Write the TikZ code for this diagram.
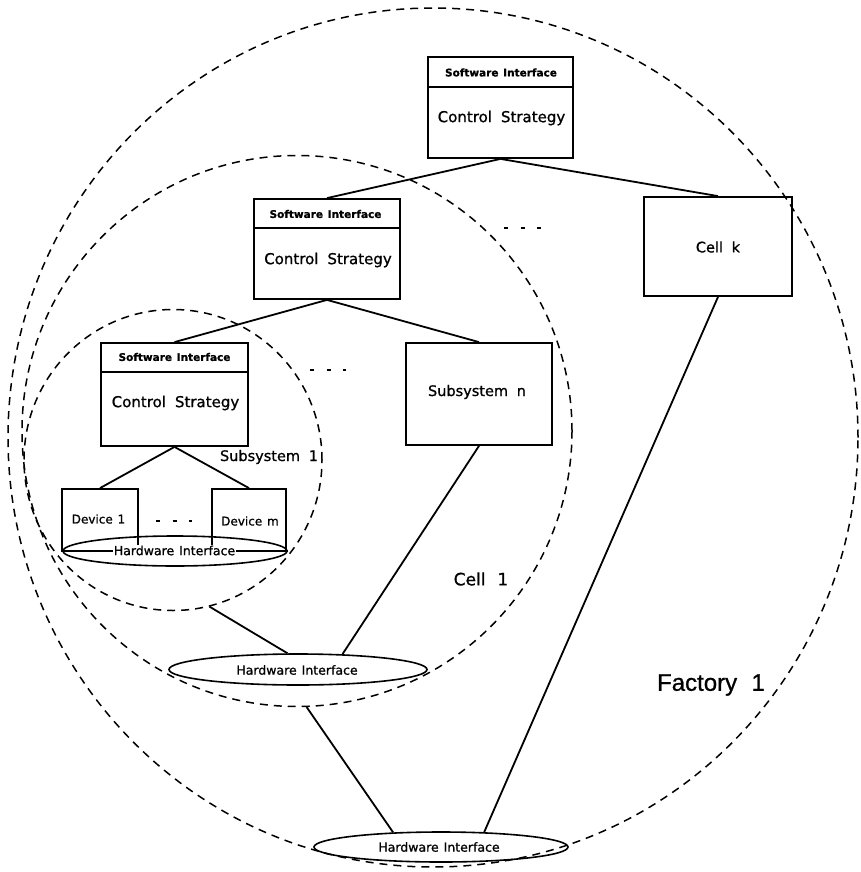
\documentclass[tikz,border=0pt]{standalone}
\usepackage{fontspec}
\setmainfont{DejaVu Sans}[FakeBold=0.9]
\newfontfamily\bigfont{Liberation Sans}[FakeBold=0.9]
\usetikzlibrary{shapes.geometric,calc}

\begin{document}
\begin{tikzpicture}[x=1pt,y=-1pt,
  box/.style={draw,rectangle,line width=1.8pt,inner sep=0pt},
  link/.style={line width=1.8pt},
  zone/.style={draw,ellipse,line width=1.5pt,dash pattern=on 8pt off 6pt,inner sep=0pt},
  hwi/.style={draw,ellipse,line width=1.6pt,inner sep=0pt},
  swtext/.style={font=\bfseries\fontsize{10.5}{12}\selectfont,inner sep=0pt},
  cstext/.style={font=\fontsize{15}{18}\selectfont,inner sep=0pt},
  lbl/.style={font=\fontsize{14.5}{17}\selectfont,inner sep=0pt},
  devtext/.style={font=\fontsize{12}{14}\selectfont,inner sep=0pt},
  hwtext/.style={font=\fontsize{12.5}{15}\selectfont,inner sep=1pt},
  etc/.style={line width=1.4pt,dash pattern=on 4pt off 12.5pt}
]
\useasboundingbox (0,0) rectangle (860,872);

% dashed scopes: factory, cell and subsystem
\node[zone,minimum width=850pt,minimum height=859pt] (factory) at (433,437.5) {};
\node[zone,minimum width=550pt,minimum height=551pt] (cellzone) at (297,431) {};
\node[zone,minimum width=298pt,minimum height=301pt] (subzone) at (173,460) {};

% factory level controller
\node[box,minimum width=145pt,minimum height=101pt] (ftop) at (500.5,107.5) {};
\draw[link] ($(ftop.north west)+(0,31)$) -- ($(ftop.north east)+(0,31)$);
\node[swtext] (ftopsw) at (501,72.5) {Software\hspace{0.45em}Interface};
\node[cstext] (ftopcs) at (501.5,118) {Control\hspace{0.6em}Strategy};

% cell level controller
\node[box,minimum width=146pt,minimum height=100pt] (ctop) at (327,249) {};
\draw[link] ($(ctop.north west)+(0,30)$) -- ($(ctop.north east)+(0,30)$);
\node[swtext] (ctopsw) at (325.5,214) {Software\hspace{0.45em}Interface};
\node[cstext] (ctopcs) at (328,260) {Control\hspace{0.6em}Strategy};

\node[box,minimum width=148pt,minimum height=99pt] (cellk) at (718,246.5) {};
\node[lbl] (cellktx) at (718,247) {Cell\hspace{0.6em}k};

% subsystem level controller
\node[box,minimum width=147pt,minimum height=103pt] (stop) at (174.5,394.5) {};
\draw[link] ($(stop.north west)+(0,30)$) -- ($(stop.north east)+(0,30)$);
\node[swtext] (stopsw) at (174.5,357) {Software\hspace{0.45em}Interface};
\node[cstext] (stopcs) at (175.5,403) {Control\hspace{0.6em}Strategy};

\node[box,minimum width=146pt,minimum height=102pt] (subn) at (479,394) {};
\node[lbl] (subntx) at (477,392) {Subsystem\hspace{0.6em}n};

% devices on their hardware interface
\node[hwi,minimum width=224pt,minimum height=30pt] (shw) at (175,551) {};
\node[box,minimum width=76pt,minimum height=62pt] (dev1) at (100,520) {};
\node[box,minimum width=74pt,minimum height=62pt] (devm) at (249,520) {};
\draw[line width=1.4pt] (shw.west) -- (shw.east);
\node[hwtext,fill=white] (shwtx) at (174.5,550.5) {Hardware\hspace{0.4em}Interface};
\node[devtext] (dev1tx) at (98.5,519) {Device\hspace{0.4em}1};
\node[devtext] (devmtx) at (250,521) {Device\hspace{0.4em}m};

% hardware interfaces of cell and factory
\node[hwi,minimum width=258pt,minimum height=31pt] (chw) at (298,669.5) {};
\node[hwtext] (chwtx) at (297,670) {Hardware\hspace{0.4em}Interface};
\node[hwi,minimum width=254pt,minimum height=30pt] (fhw) at (441,847) {};
\node[hwtext] (fhwtx) at (439,847) {Hardware\hspace{0.4em}Interface};

% hierarchy links
\draw[link] (ftop.south) -- (ctop.north);
\draw[link] (ftop.south) -- (cellk.north);
\draw[link] (ctop.south) -- (stop.north);
\draw[link] (ctop.south) -- (subn.north);
\draw[link] (stop.south) -- (dev1.north);
\draw[link] (stop.south) -- (devm.north);

% links down to the hardware interfaces
\draw[link] (subzone.-76) -- (chw.123);
\draw[link] (subn.south) -- (chw.19);
\draw[link] (cellzone.-88) -- (fhw.163);
\draw[link] (cellk.south) -- (fhw.19);

% elision marks
\coordinate (e1a) at (504,228); \coordinate (e1b) at (541,228);
\draw[etc] (e1a) -- (e1b);
\coordinate (e2a) at (310,370); \coordinate (e2b) at (346,370);
\draw[etc] (e2a) -- (e2b);
\coordinate (e3a) at (156,521); \coordinate (e3b) at (192,521);
\draw[etc] (e3a) -- (e3b);

% scope names
\node[lbl] (subname) at (269,457) {Subsystem\hspace{0.6em}1};
\node[font=\fontsize{17}{20}\selectfont,inner sep=0pt] (cellname) at (481,579) {Cell\hspace{0.7em}1};
\node[font=\bigfont\fontsize{24}{28}\selectfont,inner sep=0pt] (facname) at (711,685) {Factory\hspace{0.6em}1};
\end{tikzpicture}
\end{document}
